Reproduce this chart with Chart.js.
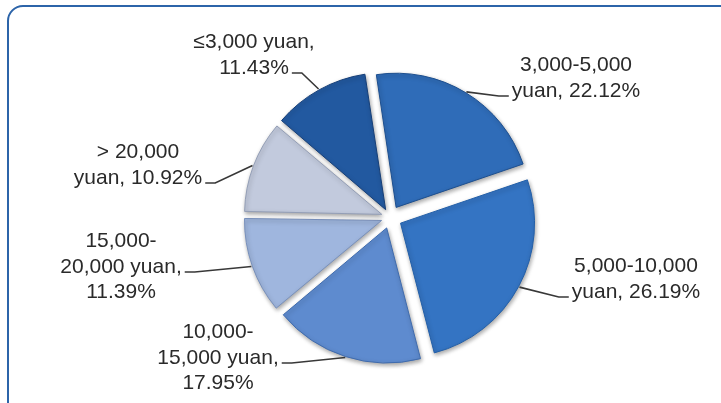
<!DOCTYPE html>
<html>
<head>
<meta charset="utf-8">
<script src="https://cdn.jsdelivr.net/npm/chart.js@4.4.1/dist/chart.umd.min.js"></script>
<style>
    html, body { margin: 0; padding: 0; background: #fff; overflow: hidden; }
    #wrap { position: relative; width: 721px; height: 403px; overflow: hidden; }
    #frame {
        position: absolute; left: 7px; top: 5px; width: 745px; height: 415px;
        border: 2px solid #2c64a9; border-radius: 16px; box-sizing: border-box;
    }
    canvas { position: absolute; left: 0; top: 0; }
</style>
</head>
<body>
<div id="wrap">
    <div id="frame"></div>
    <canvas id="pieChart" width="721" height="403"></canvas>
</div>
<script>
// Monthly income groups, clockwise from the top
const categories = ["3,000-5,000\nyuan", "5,000-10,000\nyuan", "10,000-\n15,000 yuan", "15,000-\n20,000 yuan", "> 20,000\nyuan", "≤3,000 yuan"];
const shares = [22.12, 26.19, 17.95, 11.39, 10.92, 11.43];
// what goes between "yuan," and the percentage
const valueSep = [" ", " ", "\n", "\n", " ", "\n"];

const fills = ["#2f6cb8", "#3474c3", "#5e8bcf", "#9fb6de", "#c2cadd", "#2259a0"];
const edges = ["#1d4f8f", "#235fa8", "#3f6bad", "#7890bb", "#939eb6", "#163f78"];

// label block placement relative to the pie centre
const labelSpots = [
    { dx: 186, dy: -152, line: 1, side: "right" },
    { dx: 246, dy: 49, line: 1, side: "right" },
    { dx: -172, dy: 115, line: 1, side: "left" },
    { dx: -269, dy: 24, line: 1, side: "left" },
    { dx: -252, dy: -65, line: 1, side: "left" },
    { dx: -136, dy: -175, line: 1, side: "left" },
];

const explode = 12;
const lineGap = 25.5;

// soft drop shadow under the slices
const sliceShadow = {
    id: "sliceShadow",
    beforeDatasetsDraw(chart) {
        const ctx = chart.ctx;
        ctx.save();
        ctx.shadowColor = "rgba(0, 0, 0, 0.35)";
        ctx.shadowBlur = 4;
        ctx.shadowOffsetX = 1;
        ctx.shadowOffsetY = 2;
    },
    afterDatasetsDraw(chart) {
        chart.ctx.restore();
    },
};

// outside labels with leader lines
const sliceLabels = {
    id: "sliceLabels",
    afterDatasetsDraw(chart) {
        const ctx = chart.ctx;
        const meta = chart.getDatasetMeta(0);
        ctx.save();
        ctx.font = "21px 'Liberation Sans', Arial, sans-serif";
        ctx.fillStyle = "#2a2a2a";
        ctx.strokeStyle = "#383838";
        ctx.lineWidth = 1.6;
        ctx.textAlign = "center";
        ctx.textBaseline = "middle";
        meta.data.forEach((arc, i) => {
            const spot = labelSpots[i];
            const text = categories[i] + "," + valueSep[i] + shares[i].toFixed(2) + "%";
            const lines = text.split("\n");
            const tx = arc.x + spot.dx;
            const ty = arc.y + spot.dy;
            lines.forEach((t, k) => ctx.fillText(t, tx, ty + k * lineGap));

            const mid = (arc.startAngle + arc.endAngle) / 2;
            const r = arc.outerRadius + explode + 1;
            const ax = arc.x + Math.cos(mid) * r;
            const ay = arc.y + Math.sin(mid) * r;
            const w = ctx.measureText(lines[spot.line]).width;
            const dir = spot.side === "right" ? -1 : 1;
            const ex = tx + dir * (w / 2 + 3);
            const ey = ty + spot.line * lineGap + 5;

            ctx.beginPath();
            ctx.moveTo(ax, ay);
            ctx.lineTo(ex + dir * 10, ey);
            ctx.lineTo(ex, ey);
            ctx.stroke();
        });
        ctx.restore();
    },
};

const total = shares.reduce((a, b) => a + b, 0);

new Chart(document.getElementById("pieChart").getContext("2d"), {
    type: "pie",
    data: {
        labels: categories,
        datasets: [
            {
                data: shares,
                backgroundColor: fills,
                borderColor: edges,
                borderWidth: 1,
                // push every slice out by the same distance
                offset: (c) => {
                    const circ = (c.parsed / total) * Math.PI * 2;
                    const fix = 1 - Math.sin(Math.min(Math.PI, circ));
                    return (4 * explode) / (1 + fix);
                },
            },
        ],
    },
    options: {
        responsive: false,
        animation: false,
        rotation: -8.5,
        radius: 134,
        layout: { padding: { left: 59, right: 0, top: 32, bottom: 0 } },
        plugins: {
            legend: { display: false },
            tooltip: { enabled: false },
        },
    },
    plugins: [sliceShadow, sliceLabels],
});
</script>
</body>
</html>
